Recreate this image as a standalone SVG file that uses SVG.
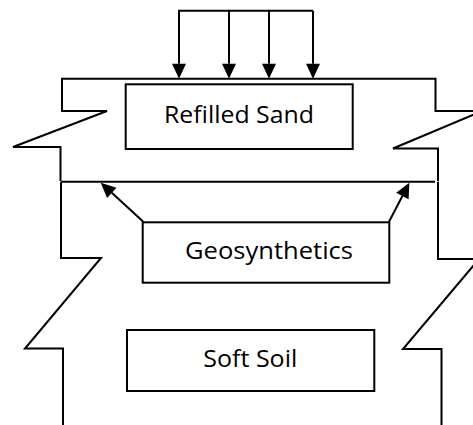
<svg xmlns="http://www.w3.org/2000/svg" width="473" height="425" viewBox="0 0 473 425">
<style>
.ln{fill:none;stroke:#000;stroke-width:2;stroke-linejoin:miter}
.bx{fill:#fff;stroke:#000;stroke-width:2}
.tx{font-family:"Open Sans","Liberation Sans",sans-serif;font-size:23.5px;fill:#000;text-anchor:middle}
</style>
<defs>
<marker id="ah" markerUnits="userSpaceOnUse" markerWidth="16" markerHeight="15" refX="0" refY="7" orient="auto" overflow="visible">
<path d="M0,0 L15,7 L0,14 z" fill="#000"/>
</marker>
</defs>
<g id="layers">
<path class="ln" d="M60.5,181 L60.5,147 L13,147 L107,111 L62,111 L62,78.7 L435.5,78.7 L435.5,111 L482,111 L393,148.5 L438,148.5 L438,181"/>
<path class="ln" d="M61,181.7 L435,181.7"/>
<path class="ln" d="M61,181.7 L61,258 L101,258 L25,348.5 L63,348.5 L63,426"/>
<path class="ln" d="M438,181.7 L438,259 L479,259 L403,349 L441.5,349 L441.5,426"/>
</g>
<g id="connectors">
<path class="ln" d="M313,10.7 L179,10.7 L179,63.7" marker-end="url(#ah)"/>
<path class="ln" d="M229,10.7 L229,63.7" marker-end="url(#ah)"/>
<path class="ln" d="M269,10.7 L269,63.7" marker-end="url(#ah)"/>
<path class="ln" d="M313,10.7 L313,63.7" marker-end="url(#ah)"/>
<path class="ln" d="M143.3,221.7 L111.8,192.8" marker-end="url(#ah)"/>
<path class="ln" d="M389,221.7 L402.4,196" marker-end="url(#ah)"/>
</g>
<g id="refilled-sand">
<rect class="bx" x="125.7" y="84.3" width="227" height="64.7"/>
<text class="tx" x="239" y="123.3" textLength="150" lengthAdjust="spacingAndGlyphs">Refilled Sand</text>
</g>
<g id="geosynthetics">
<rect class="bx" x="142.7" y="222.3" width="246.6" height="60.4"/>
<text class="tx" x="269" y="259.3" textLength="168" lengthAdjust="spacingAndGlyphs">Geosynthetics</text>
</g>
<g id="soft-soil">
<rect class="bx" x="127" y="330" width="247.3" height="61"/>
<text class="tx" x="250.3" y="366.7" textLength="94" lengthAdjust="spacingAndGlyphs">Soft Soil</text>
</g>
</svg>
